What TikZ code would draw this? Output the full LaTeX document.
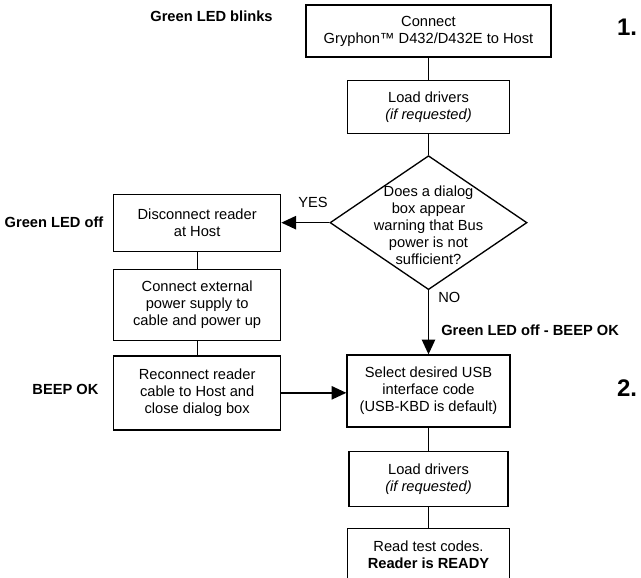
\documentclass[tikz,border=0pt]{standalone}
\usepackage{fontspec}
\setmainfont{Liberation Sans}
\usetikzlibrary{positioning,shapes.geometric,arrows.meta,calc}
\tikzset{
  stepbox/.style args={#1,#2}{
  draw=black,
  line width=1pt,
  align=center,
  minimum width=#1,
  minimum height=#2,
  font=\fontsize{11}{12.75}\selectfont,
  },
  decision/.style={diamond,draw=black,line width=1pt,
   minimum width=147.75pt,minimum height=100.5pt,inner sep=0pt},
  flow/.style={line width=1pt,-{Triangle[length=11pt,width=10pt]}},
  link/.style={line width=1pt},
  ledtext/.style={font=\fontsize{11}{13}\selectfont\bfseries,inner sep=0pt},
  plain/.style={font=\fontsize{11}{12.75}\selectfont,inner sep=0pt},
  stepnum/.style={font=\fontsize{18}{20}\selectfont\bfseries,inner sep=0pt}
}

\begin{document}
\begin{tikzpicture}[x=0.75pt,y=-0.75pt]
  \useasboundingbox (0,0) rectangle (641,577);

  % main column
  \node[stepbox={183.75pt,39pt}] (connect) at (428.5,31) {Connect\\Gryphon™ D432/D432E to Host};
  \node[stepbox={121.5pt,39.75pt},below=16.5pt of connect] (load1) {Load drivers\\\textit{(if requested)}};
  \node[decision,below=15.75pt of load1] (dialog) {};
  \node[plain,align=center] (question) at ($(dialog)+(0,2.5)$) {Does a dialog\\box appear\\warning that Bus\\power is not\\sufficient?};
  \node[stepbox={122.25pt,54pt},below=48pt of dialog] (select) {Select desired USB\\interface code\\(USB-KBD is default)};
  \node[stepbox={119.25pt,41.25pt},below=17.25pt of select] (load2) {Load drivers\\\textit{(if requested)}};
  \node[stepbox={121.5pt,39.75pt},below=15.75pt of load2] (read) {Read test codes.\\\textbf{Reader is READY}};

  % power branch
  \node[stepbox={125.25pt,42.75pt},left=36pt of dialog] (disconnect) {Disconnect reader\\at Host};
  \node[stepbox={125.25pt,53.25pt},below=12.75pt of disconnect] (extpower) {Connect external\\power supply to\\cable and power up};
  \node[stepbox={125.25pt,55.5pt},below=10.5pt of extpower] (reconnect) {Reconnect reader\\cable to Host and\\close dialog box};

  % LED states and step numbers
  \node[ledtext] (blinks) at (211.5,16) {Green LED blinks};
  \node[ledtext] (ledoff) at (54,222) {Green LED off};
  \node[ledtext] (beep) at (65.5,389) {BEEP OK};
  \node[plain] (yes) at (313,202) {YES};
  \node[plain,anchor=west] (no) at (438,297) {NO};
  \node[ledtext,anchor=west] (ledbeep) at (441,330) {Green LED off - BEEP OK};
  \node[stepnum] (one) at (627,27) {1.};
  \node[stepnum] (two) at (627,388) {2.};

  \draw[link] (connect) -- (load1);
  \draw[link] (load1) -- (dialog);
  \draw[flow] (dialog.west) -- (disconnect.east);
  \draw[flow] (dialog.south) -- (select.north);
  \draw[link] (disconnect) -- (extpower);
  \draw[link] (extpower) -- (reconnect);
  \draw[flow] (reconnect.east) -- (reconnect.east -| select.west);
  \draw[link] (select) -- (load2);
  \draw[link] (load2) -- (read);
\end{tikzpicture}
\end{document}
